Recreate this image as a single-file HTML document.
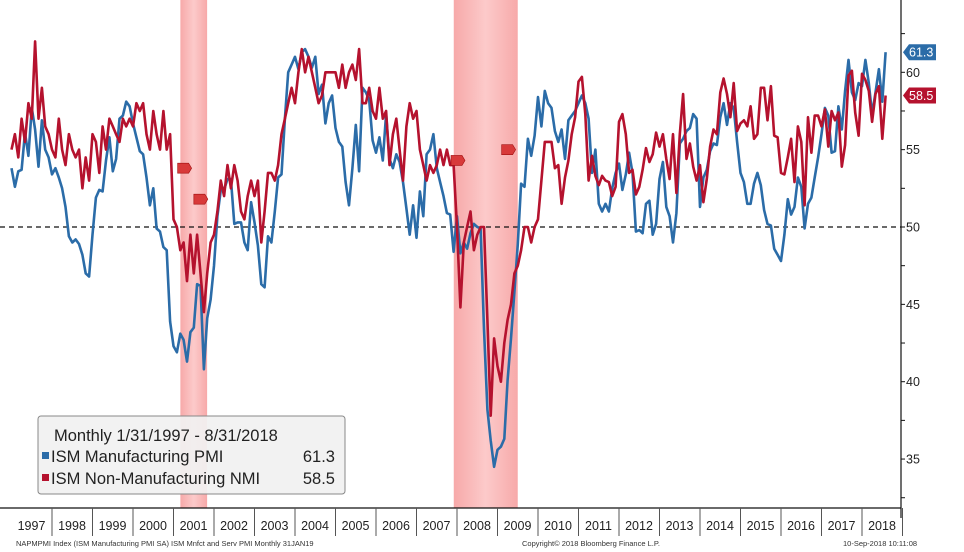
<!DOCTYPE html>
<html><head><meta charset="utf-8"><style>
body{margin:0;background:#fff;width:964px;height:552px;overflow:hidden;font-family:"Liberation Sans","DejaVu Sans",sans-serif}
svg{display:block}
</style></head><body>
<svg id="chart" width="964" height="552" viewBox="0 0 964 552" xmlns="http://www.w3.org/2000/svg">
<g id="bands"></g>
<g id="grid"></g>
<g id="series"></g>
<g id="axes"></g>
<g>
<rect x="38" y="416" width="307" height="78" rx="3" fill="#f1f1f1" fill-opacity="0.92" stroke="#888" stroke-width="1"/>
<text x="54" y="441" font-size="16.5" fill="#222">Monthly 1/31/1997 - 8/31/2018</text>
<rect x="42" y="452" width="7" height="7" fill="#2b6ca8"/>
<text x="51" y="462" font-size="16.5" fill="#222">ISM Manufacturing PMI</text>
<text x="335" y="462" font-size="16.5" fill="#222" text-anchor="end">61.3</text>
<rect x="42" y="474" width="7" height="7" fill="#b5122e"/>
<text x="51" y="484" font-size="16.5" fill="#222">ISM Non-Manufacturing NMI</text>
<text x="335" y="484" font-size="16.5" fill="#222" text-anchor="end">58.5</text>
</g>
<text x="16" y="546" font-size="7.5" fill="#333">NAPMPMI Index (ISM Manufacturing PMI SA) ISM Mnfct and Serv PMI  Monthly 31JAN19</text>
<text x="522" y="546" font-size="7.5" fill="#333">Copyright© 2018 Bloomberg Finance L.P.</text>
<text x="843" y="546" font-size="7.5" fill="#333">10-Sep-2018 10:11:08</text>
</svg>
<script>
const years=["1997","1998","1999","2000","2001","2002","2003","2004","2005","2006","2007","2008","2009","2010","2011","2012","2013","2014","2015","2016","2017","2018"];
const yTicks=[35,40,45,50,55,60];
const recessions=[[2001.17,2001.83],[2007.92,2009.5]];
const pmi=[53.8,52.6,53.6,53.7,56.1,54.6,57.7,56.3,53.9,56.9,55.0,54.5,
53.4,53.8,53.2,52.5,51.3,49.4,49.0,49.2,48.9,48.2,47.0,46.8,
49.5,51.9,52.4,52.3,54.3,55.8,53.6,54.4,57.0,57.2,58.1,57.8,
56.7,55.8,54.9,54.7,53.2,51.4,52.5,49.9,49.7,48.7,48.5,43.9,
42.3,41.9,43.1,42.7,41.3,43.2,43.5,46.3,46.2,40.8,44.1,45.3,
47.5,50.7,52.4,52.4,53.1,53.1,50.2,50.3,50.3,49.0,48.5,51.6,
50.3,48.8,46.3,46.1,49.4,49.0,51.0,53.2,53.4,57.0,60.0,60.5,
61.0,60.2,61.3,61.5,61.0,60.3,61.0,58.6,59.2,56.7,58.0,58.5,
56.4,55.5,55.2,52.9,51.4,53.8,56.6,53.6,59.0,58.7,58.2,55.6,
54.8,55.8,54.3,57.3,54.4,53.8,54.7,54.2,52.9,51.2,49.5,51.4,
49.3,52.3,50.7,54.7,55.0,56.0,53.8,52.9,52.0,50.9,50.8,48.4,
50.7,48.3,49.0,48.6,49.6,50.2,50.0,49.9,43.4,38.2,36.2,34.5,
35.6,35.8,36.3,40.1,42.8,45.8,48.9,52.8,52.6,55.7,54.6,55.9,
58.4,56.5,58.8,58.0,57.7,56.2,55.5,56.3,54.4,56.9,57.2,57.5,
58.0,58.5,58.0,57.0,53.5,55.0,51.5,51.0,51.5,51.0,52.5,53.5,
54.1,52.4,53.4,54.8,53.5,49.7,49.8,49.6,51.5,51.7,49.5,50.2,
53.1,54.2,51.3,50.7,49.0,50.9,55.4,55.7,56.2,56.4,57.3,57.0,
51.3,53.2,53.7,54.9,55.4,55.3,57.1,58.0,56.6,58.0,57.7,55.5,
53.5,52.9,51.5,51.5,52.8,53.5,52.7,51.1,50.2,50.1,48.6,48.2,
47.8,49.5,51.8,50.8,51.3,53.2,52.6,49.9,51.5,51.9,53.2,54.5,
56.0,57.7,57.2,54.8,54.9,57.8,56.3,58.8,60.8,58.7,58.2,59.3,
59.1,60.8,59.3,57.3,58.7,60.2,58.1,61.3];
const nmi=[55.0,56.0,54.5,57.0,55.5,58.0,57.0,62.0,57.0,59.0,56.5,56.0,
55.0,54.5,57.0,55.0,54.0,56.0,55.0,54.5,55.0,52.5,54.5,53.0,
56.0,55.5,53.5,56.5,55.0,57.0,56.5,56.0,55.5,57.0,56.5,57.0,
56.5,58.0,57.5,58.0,56.0,55.0,57.5,56.0,55.0,57.5,55.0,56.0,
50.5,50.0,48.5,49.0,46.5,49.5,47.0,49.5,47.0,44.5,47.0,49.0,
49.5,51.0,53.0,52.0,54.0,52.5,54.0,53.0,51.0,50.5,52.0,53.0,
52.0,53.0,49.0,51.0,53.5,53.5,53.0,54.0,56.0,57.0,58.0,59.0,
58.0,60.0,61.5,60.0,61.0,60.0,59.0,58.0,58.5,60.0,60.0,60.0,
60.0,59.0,60.5,59.0,60.0,60.5,59.5,61.5,58.0,58.0,59.0,57.5,
57.0,59.0,57.0,57.5,54.0,56.0,57.0,55.0,53.0,56.5,58.0,57.0,
57.5,55.0,54.0,53.0,54.0,53.5,54.0,55.0,54.0,55.0,54.0,54.0,
50.0,44.8,49.0,50.0,51.0,48.5,49.5,50.0,50.0,44.0,37.8,42.8,
41.0,40.0,42.5,44.0,45.0,47.0,47.5,48.5,50.0,50.0,49.0,50.0,
50.5,53.0,55.5,55.5,55.5,53.8,54.0,51.5,53.2,54.3,56.0,57.1,
59.4,59.7,57.3,53.0,54.6,53.3,52.7,53.3,53.0,52.9,52.0,52.6,
56.8,57.3,56.0,53.5,53.7,52.1,52.6,53.7,55.1,54.2,54.7,56.1,
55.2,56.0,54.4,53.1,56.0,52.2,56.0,58.6,54.4,55.4,53.9,53.0,
54.0,51.6,53.1,55.2,56.3,56.0,58.7,59.6,58.6,57.1,59.3,56.2,
56.7,56.9,56.5,57.8,55.7,56.0,59.0,59.0,56.9,59.1,55.9,55.8,
53.5,53.4,54.5,55.7,52.9,56.5,55.5,51.4,57.1,54.8,57.2,57.2,
56.5,57.6,55.2,57.5,56.9,57.4,53.9,55.3,59.8,60.1,57.4,55.9,
59.9,59.5,58.8,56.8,58.6,59.1,55.7,58.5];
const flags=[[2001.25,53.8],[2001.65,51.8],[2008.0,54.3],[2009.25,55.0]];

const NS="http://www.w3.org/2000/svg";
const X0=11.5,PY=40.5,AX=901,AY=508;
function xs(t){return X0+(t-1997)*PY;}
function ys(v){return 227-(v-50)*15.47;}
function mk(tag,attrs,parent){const e=document.createElementNS(NS,tag);for(const k in attrs)e.setAttribute(k,attrs[k]);parent.appendChild(e);return e;}
const bands=document.getElementById('bands'),grid=document.getElementById('grid'),ser=document.getElementById('series'),axes=document.getElementById('axes');
const defs=mk('defs',{},document.getElementById('chart'));
const lg=mk('linearGradient',{id:'bg',x1:'0',x2:'1',y1:'0',y2:'0'},defs);
mk('stop',{offset:'0','stop-color':'#f7a9a9'},lg);mk('stop',{offset:'0.5','stop-color':'#fccaca'},lg);mk('stop',{offset:'1','stop-color':'#f7a9a9'},lg);
recessions.forEach(r=>{
 const b=mk('rect',{x:xs(r[0]),y:0,width:xs(r[1])-xs(r[0]),height:AY,fill:'url(#bg)'},bands);
 
 
});
const dl=mk('line',{x1:0,x2:AX,y1:ys(50),y2:ys(50),stroke:'#111','stroke-width':1.2,'stroke-dasharray':'5,4'},grid);


function line(arr,color,name){
 const d=arr.map((v,i)=>(i?'L':'M')+xs(1997+i/12).toFixed(1)+','+ys(v).toFixed(1)).join('');
 const p=mk('path',{d:d,fill:'none',stroke:color,'stroke-width':2.6,'stroke-linejoin':'round'},ser);
 
 
}
line(pmi,'#2b6ca8','pmi-line');
line(nmi,'#b5122e','nmi-line');
flags.forEach(f=>{
 const x=xs(f[0]),y=ys(f[1]);
 const g=mk('polygon',{points:`${x-6},${y-5} ${x+5},${y-5} ${x+8},${y} ${x+5},${y+5} ${x-6},${y+5}`,fill:'#d83a3a',stroke:'#a01010','stroke-width':0.6},ser);
 
 
});
mk('line',{x1:AX,x2:AX,y1:0,y2:AY+10,stroke:'#111','stroke-width':1.2},axes);
mk('line',{x1:0,x2:AX,y1:AY,y2:AY,stroke:'#111','stroke-width':1.2},axes);
for(let v=32.5;v<=62.5;v+=2.5){mk('line',{x1:AX,x2:AX+4,y1:ys(v),y2:ys(v),stroke:'#111','stroke-width':1},axes);}
yTicks.forEach(v=>{
 const t=mk('text',{x:AX+5,y:ys(v)+4.5,'font-size':12.5,fill:'#222'},axes);
 t.textContent=v;
 
 
});
years.forEach((y,i)=>{
 const x=xs(1997+i);
 if(i>0) mk('line',{x1:x,x2:x,y1:AY,y2:AY+28,stroke:'#555','stroke-width':1},axes);
 const t=mk('text',{x:x+20,y:AY+22,'font-size':12.5,fill:'#222','text-anchor':'middle'},axes);
 t.textContent=y;
 
 
});
mk('line',{x1:xs(2019),x2:xs(2019),y1:AY,y2:AY+28,stroke:'#555','stroke-width':1},axes);
function tag(v,color,name){
 const y=ys(v);
 const g=mk('g',{},axes);
 
 
 mk('polygon',{points:`${AX+2},${y} ${AX+8},${y-8} ${AX+35},${y-8} ${AX+35},${y+8} ${AX+8},${y+8}`,fill:color},g);
 const t=mk('text',{x:AX+8,y:y+4.5,'font-size':12.5,fill:'#fff'},g);
 t.textContent=v.toFixed(1);
}
tag(pmi[pmi.length-1],'#2b6ca8','pmi-last-value-tag');
tag(nmi[nmi.length-1],'#b5122e','nmi-last-value-tag');
</script>
</body></html>
